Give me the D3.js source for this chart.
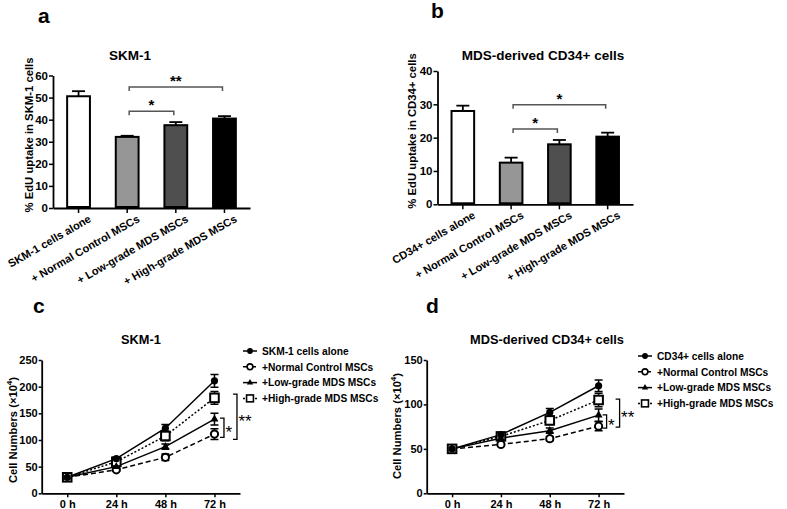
<!DOCTYPE html>
<html><head><meta charset="utf-8">
<script src="https://cdn.jsdelivr.net/npm/d3@7"></script>
<style>
body{margin:0;background:#fff;}
svg{display:block;font-family:"Liberation Sans",Arial,sans-serif;font-weight:bold;}
</style></head>
<body><svg id="c" width="787" height="509"></svg>
<script>
// ---------- DATA ----------
const barCategoriesA = ["SKM-1 cells alone", "+ Normal Control MSCs", "+ Low-grade MDS MSCs", "+ High-grade MDS MSCs"];
const barMeansA = [50.6, 32.2, 37.5, 40.5];
const barErrA = [2.3, 0.5, 1.4, 1.1];
const barCategoriesB = ["CD34+ cells alone", "+ Normal Control MSCs", "+ Low-grade MDS MSCs", "+ High-grade MDS MSCs"];
const barMeansB = [28.0, 12.5, 18.0, 20.3];
const barErrB = [1.6, 1.5, 1.3, 1.2];
const barColors = ["#ffffff", "#969696", "#4f4f4f", "#000000"];
const barSigA = [{from: 1, to: 2, y: 43.8, label: "*"}, {from: 1, to: 3, y: 54.8, label: "**"}];
const barSigB = [{from: 1, to: 2, y: 22.6, label: "*"}, {from: 1, to: 3, y: 29.9, label: "*"}];

const timeLabels = ["0 h", "24 h", "48 h", "72 h"];
const seriesNamesC = ["SKM-1 cells alone", "+Normal Control MSCs", "+Low-grade MDS MSCs", "+High-grade MDS MSCs"];
const seriesNamesD = ["CD34+ cells alone", "+Normal Control MSCs", "+Low-grade MDS MSCs", "+High-grade MDS MSCs"];
// panel c (SKM-1)
const cAlone = [30, 65, 122, 211],   cAloneErr = [2, 3, 7, 12];
const cNormal = [30, 44, 67.5, 111], cNormalErr = [2, 2, 6, 10];
const cLow = [30, 50, 87.5, 139],    cLowErr = [2, 2, 5, 11];
const cHigh = [30, 59, 107.5, 179],  cHighErr = [2, 3, 9, 12];
const cSig = [{lo: 105, hi: 141, label: "*"}, {lo: 101, hi: 186, label: "**"}];
// panel d (MDS-derived CD34+)
const dAlone = [50, 66, 91, 121],    dAloneErr = [1, 2, 4.5, 6.5];
const dNormal = [50, 55, 61.5, 75.5],dNormalErr = [1, 1.5, 2.5, 5];
const dLow = [50, 62, 70.5, 88],     dLowErr = [1, 2, 3, 7];
const dHigh = [50, 64, 82, 105],     dHighErr = [1, 2, 4.5, 7.5];
const dSig = [{lo: 73.3, hi: 88.3, label: "*"}, {lo: 74.4, hi: 106, label: "**"}];

const svg = d3.select("#c");

// ---------- BAR PANELS ----------
function barPanel(o) {
  const g = svg.append("g");
  const x = d3.scaleBand().domain(o.cats).range(o.xr).paddingInner(0.49).paddingOuter(0.27);
  const y = d3.scaleLinear().domain([0, o.ymax]).range(o.yr);
  const ya = g.append("g").attr("transform", `translate(${o.xr[0]},0)`)
    .call(d3.axisLeft(y).tickValues(d3.range(0, o.ymax + 1, 10)).tickSize(4).tickSizeOuter(0).tickPadding(1));
  const xa = g.append("g").attr("transform", `translate(0,${o.yr[0]})`)
    .call(d3.axisBottom(x).tickSize(5).tickSizeOuter(0));
  [ya, xa].forEach(a => { a.select(".domain").attr("stroke-width", 1.8); a.selectAll(".tick line").attr("stroke-width", 1.5); });
  ya.selectAll("text").attr("font-size", 11.5).attr("font-weight", "bold").attr("font-family", "Liberation Sans");
  xa.selectAll("text").attr("font-size", 11).attr("font-weight", "bold").attr("font-family", "Liberation Sans")
    .attr("text-anchor", "end").attr("dy", null).attr("x", 5).attr("y", 18)
    .attr("transform", "rotate(-30)");
  const cx = c => x(c) + x.bandwidth() / 2;
  o.cats.forEach((c, i) => {
    g.append("line").attr("x1", cx(c)).attr("x2", cx(c)).attr("y1", y(o.means[i])).attr("y2", y(o.means[i] + o.errs[i]))
      .attr("stroke", "#000").attr("stroke-width", 1.8);
    g.append("line").attr("x1", cx(c) - 6.5).attr("x2", cx(c) + 6.5).attr("y1", y(o.means[i] + o.errs[i])).attr("y2", y(o.means[i] + o.errs[i]))
      .attr("stroke", "#000").attr("stroke-width", 1.8);
  });
  g.selectAll("rect.bar").data(o.cats).join("rect").attr("class", "bar")
    .attr("x", c => x(c) + 1).attr("width", x.bandwidth() - 2)
    .attr("y", (c, i) => y(o.means[i])).attr("height", (c, i) => y(0) - y(o.means[i]) - 1)
    .attr("fill", (c, i) => o.colors[i]).attr("stroke", "#000").attr("stroke-width", 2);
  o.sig.forEach(s => {
    const x1 = cx(o.cats[s.from]) + 2, x2 = cx(o.cats[s.to]) - 2, yy = y(s.y);
    g.append("path").attr("d", `M${x1},${yy + 4}V${yy}H${x2}V${yy + 4}`).attr("fill", "none")
      .attr("stroke", "#555").attr("stroke-width", 1.5);
    g.append("text").attr("x", (x1 + x2) / 2).attr("y", yy - 1).attr("text-anchor", "middle")
      .attr("font-size", 15).text(s.label);
  });
  g.append("text").attr("x", o.title[0]).attr("y", o.title[1]).attr("text-anchor", "middle").attr("font-size", 13.5).text(o.titleText);
  g.append("text").attr("transform", `translate(${o.ylab[0]},${o.ylab[1]}) rotate(-90)`).attr("text-anchor", "middle")
    .attr("font-size", 11.3).text(o.ylabText);
  g.append("text").attr("x", o.letter[0]).attr("y", o.letter[1]).attr("font-size", 21).text(o.letterText);
}

barPanel({cats: barCategoriesA, means: barMeansA, errs: barErrA, colors: barColors, sig: barSigA,
  xr: [53, 250], yr: [208, 75.5], ymax: 60, title: [130, 60], titleText: "SKM-1",
  ylab: [33, 135], ylabText: "% EdU uptake in SKM-1 cells", letter: [38, 23], letterText: "a"});
barPanel({cats: barCategoriesB, means: barMeansB, errs: barErrB, colors: barColors, sig: barSigB,
  xr: [437.5, 633], yr: [204.3, 71], ymax: 40, title: [543, 60], titleText: "MDS-derived CD34+ cells",
  ylab: [415.5, 131], ylabText: "% EdU uptake in CD34+ cells", letter: [431, 18], letterText: "b"});

// ---------- LINE PANELS ----------
const seriesStyle = [
  {marker: "filledCircle", dash: null},
  {marker: "openCircle", dash: "5,3"},
  {marker: "triangle", dash: null},
  {marker: "openSquare", dash: "2,2"}
];
function drawMarker(g, type, px, py, k) {
  k = k || 1;
  if (type === "filledCircle") g.append("circle").attr("cx", px).attr("cy", py).attr("r", 3.6 * k).attr("fill", "#000");
  else if (type === "openCircle") g.append("circle").attr("cx", px).attr("cy", py).attr("r", 3.6 * k).attr("fill", "#fff").attr("stroke", "#000").attr("stroke-width", 2 * k);
  else if (type === "triangle") g.append("path").attr("d", d3.symbol(d3.symbolTriangle, 28 * k * k)()).attr("transform", `translate(${px},${py})`).attr("fill", "#000");
  else if (type === "openSquare") g.append("rect").attr("x", px - 4.3 * k).attr("y", py - 4.3 * k).attr("width", 8.6 * k).attr("height", 8.6 * k).attr("fill", "#fff").attr("stroke", "#000").attr("stroke-width", 2 * k);
}
function linePanel(o) {
  const g = svg.append("g");
  const x = d3.scalePoint().domain(timeLabels).range(o.xr).padding(0.52);
  const y = d3.scaleLinear().domain([0, o.ymax]).range(o.yr);
  const ya = g.append("g").attr("transform", `translate(${o.xr[0]},0)`)
    .call(d3.axisLeft(y).tickValues(d3.range(0, o.ymax + 1, 50)).tickSize(3).tickSizeOuter(0).tickPadding(1));
  const xa = g.append("g").attr("transform", `translate(0,${o.yr[0]})`)
    .call(d3.axisBottom(x).tickSize(4).tickSizeOuter(0).tickPadding(3));
  [ya, xa].forEach(a => { a.select(".domain").attr("stroke-width", 1.8); a.selectAll(".tick line").attr("stroke-width", 1.5);
    a.selectAll("text").attr("font-size", 11).attr("font-weight", "bold").attr("font-family", "Liberation Sans"); });
  const line = d3.line().x((d, i) => x(timeLabels[i])).y(d => y(d));
  const order = [1, 3, 2, 0];
  order.forEach(si => {
    g.append("path").attr("d", line(o.vals[si])).attr("fill", "none").attr("stroke", "#000").attr("stroke-width", 1.5)
      .attr("stroke-dasharray", seriesStyle[si].dash);
  });
  order.forEach(si => {
    o.vals[si].forEach((v, i) => {
      const px = x(timeLabels[i]), e = o.errs[si][i];
      g.append("path").attr("d", `M${px - 4},${y(v + e)}H${px + 4}M${px},${y(v + e)}V${y(v - e)}M${px - 4},${y(v - e)}H${px + 4}`)
        .attr("stroke", "#000").attr("stroke-width", 1.5).attr("fill", "none");
    });
  });
  order.forEach(si => o.vals[si].forEach((v, i) => drawMarker(g, seriesStyle[si].marker, x(timeLabels[i]), y(v))));
  const x72 = x(timeLabels[3]);
  o.sig.forEach((s, k) => {
    const bx = x72 + o.sigOff[k];
    g.append("path").attr("d", `M${bx - 4},${y(s.hi)}H${bx}V${y(s.lo)}H${bx - 4}`).attr("fill", "none")
      .attr("stroke", "#000").attr("stroke-width", 1.3);
    g.append("text").attr("x", bx + 1.5).attr("y", (y(s.hi) + y(s.lo)) / 2 + 10).attr("font-size", 17)
      .attr("font-weight", "normal").text(s.label);
  });
  o.names.forEach((n, si) => {
    const ly = o.leg[1] + si * 15.8;
    g.append("line").attr("x1", o.leg[0] - 7).attr("x2", o.leg[0] + 7).attr("y1", ly).attr("y2", ly)
      .attr("stroke", "#000").attr("stroke-width", 1.5).attr("stroke-dasharray", seriesStyle[si].dash);
    drawMarker(g, seriesStyle[si].marker, o.leg[0], ly, 0.8);
    g.append("text").attr("x", o.leg[0] + 12).attr("y", ly + 3.8).attr("font-size", 10.2).text(n);
  });
  g.append("text").attr("x", o.title[0]).attr("y", o.title[1]).attr("text-anchor", "middle").attr("font-size", 12.8).text(o.titleText);
  const yl = g.append("text").attr("transform", `translate(${o.ylab[0]},${o.ylab[1]}) rotate(-90)`).attr("text-anchor", "middle")
    .attr("font-size", 11.2);
  yl.append("tspan").text("Cell Numbers (\u00d710");
  yl.append("tspan").attr("font-size", 8).attr("dy", -5).text("4");
  yl.append("tspan").attr("dy", 5).text(")");
  g.append("text").attr("x", o.letter[0]).attr("y", o.letter[1]).attr("font-size", 21).text(o.letterText);
}

linePanel({vals: [cAlone, cNormal, cLow, cHigh], errs: [cAloneErr, cNormalErr, cLowErr, cHighErr], names: seriesNamesC,
  xr: [41.7, 240], yr: [493.3, 360], ymax: 250, sig: cSig, sigOff: [9.5, 22.5], leg: [250, 351],
  title: [141, 344], titleText: "SKM-1", ylab: [17, 430], letter: [33, 313], letterText: "c"});
linePanel({vals: [dAlone, dNormal, dLow, dHigh], errs: [dAloneErr, dNormalErr, dLowErr, dHighErr], names: seriesNamesD,
  xr: [426.7, 624], yr: [493.3, 360], ymax: 150, sig: dSig, sigOff: [8, 21], leg: [645, 356],
  title: [547, 344], titleText: "MDS-derived CD34+ cells", ylab: [401, 426], letter: [426, 313], letterText: "d"});
</script></body></html>
